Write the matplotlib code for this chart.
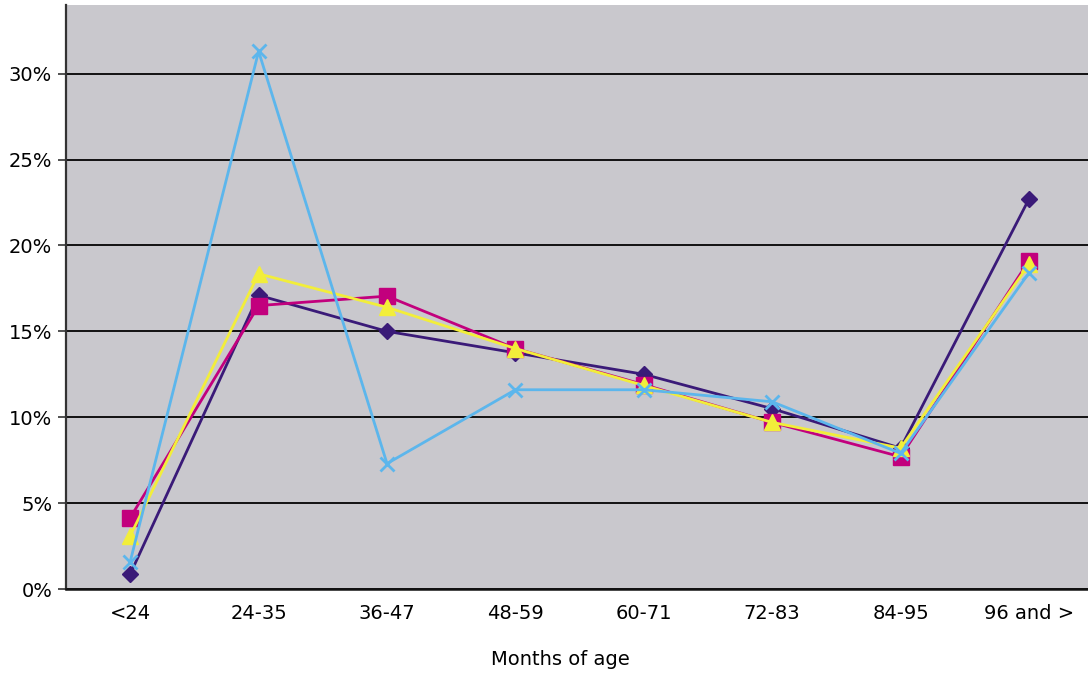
import numpy as np
import matplotlib.pyplot as plt
from matplotlib.ticker import PercentFormatter

# Age groups (months) and share of each group, in percent
age_groups = ['<24', '24-35', '36-47', '48-59', '60-71', '72-83', '84-95', '96 and >']
series_a = [0.87, 17.1, 15.0, 13.75, 12.5, 10.5, 8.2, 22.7]
series_b = [4.15, 16.5, 17.05, 14.0, 11.9, 9.7, 7.7, 19.1]
series_c = [3.1, 18.35, 16.4, 14.0, 11.85, 9.7, 8.2, 18.9]
series_d = [1.6, 31.3, 7.3, 11.6, 11.6, 10.9, 7.9, 18.4]

x = np.arange(len(age_groups))

fig = plt.figure(figsize=(10.88, 6.73), dpi=100)
ax = fig.add_axes([0.0607, 0.1248, 0.9393, 0.8678])
ax.set_facecolor('#c9c8cd')

ax.plot(x, series_a, color='#3a1a78', lw=2, marker='D', ms=8.5, zorder=3)
ax.plot(x, series_b, color='#c2007d', lw=2, marker='s', ms=11, zorder=4)
ax.plot(x, series_c, color='#f2ee3a', lw=2, marker='^', ms=11, zorder=5)
ax.plot(x, series_d, color='#5cb6ec', lw=2, marker='x', ms=10, mew=2, zorder=6)

ax.set_xlim(-0.5, 7.46)
ax.set_ylim(0, 34)
ax.set_yticks(np.arange(0, 31, 5))
ax.yaxis.set_major_formatter(PercentFormatter(decimals=0))
ax.set_xticks(x)
ax.set_xticklabels(age_groups)
ax.grid(axis='y', color='#111111', lw=1.4, zorder=1)
ax.set_axisbelow(True)

for side in ['top', 'right']:
    ax.spines[side].set_visible(False)
ax.spines['left'].set_color('#333333')
ax.spines['left'].set_linewidth(1.6)
ax.spines['bottom'].set_color('#111111')
ax.spines['bottom'].set_linewidth(1.8)

ax.tick_params(axis='y', length=6, width=1.2, color='#333333', labelsize=14, pad=4)
ax.tick_params(axis='x', length=0, labelsize=14, pad=11)
ax.set_xlabel('Months of age', fontsize=14, labelpad=17)
ax.xaxis.set_label_coords(0.484, -0.105)

plt.savefig('out.png', dpi=100)
